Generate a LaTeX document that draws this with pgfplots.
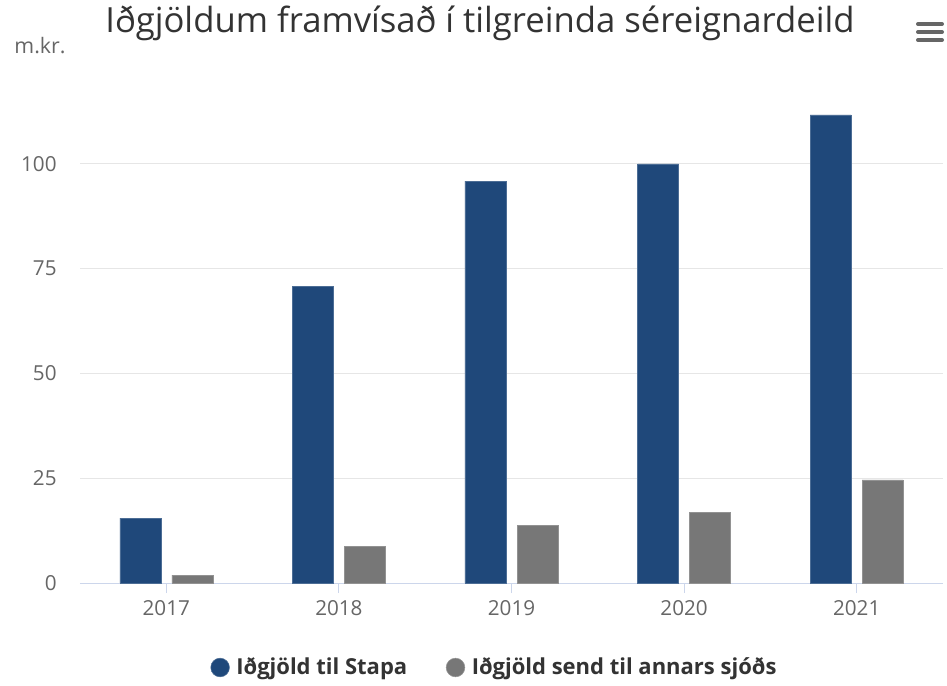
\documentclass[border=0pt]{standalone}
\usepackage{pgfplots}
\pgfplotsset{compat=1.18}
\usepackage{fontspec}
\setmainfont{Open Sans}
\definecolor{stapa}{RGB}{31,72,122}
\definecolor{annar}{RGB}{119,119,119}
\definecolor{gridc}{RGB}{230,230,230}
\definecolor{axisc}{RGB}{204,214,235}
\definecolor{tickc}{RGB}{102,102,102}
\definecolor{titlec}{RGB}{51,51,51}
\begin{document}
\begin{tikzpicture}
\begin{axis}[
  at={(0pt,0pt)}, anchor=south west,
  scale only axis, width=647.25pt, height=377.25pt,
  ybar=8.25pt, bar width=30.75pt,
  xmin=-0.5, xmax=4.5, ymin=0, ymax=120,
  xtick={0,1,2,3,4}, xticklabels={2017,2018,2019,2020,2021},
  ytick={0,25,50,75,100},
  ymajorgrids, grid style={gridc, line width=0.75pt},
  axis x line*=bottom, axis y line*=left,
  y axis line style={draw=none},
  x axis line style={axisc, line width=0.75pt, -},
  xtick style={axisc, line width=0.75pt},
  xtick align=outside, major tick length=7.5pt,
  ytick style={draw=none},
  tick label style={font=\fontsize{15.5}{18}\selectfont, text=tickc},
  /pgf/number format/assume math mode=true,
  xticklabel style={yshift=-2pt},
  yticklabel style={xshift=-14pt},
  legend style={at={(0.483,-0.168)}, anchor=center, draw=none,
    legend columns=2, font=\bfseries\fontsize{16.5}{19}\selectfont, text=titlec,
    /tikz/every even column/.append style={column sep=24pt}},
  legend image code/.code={\fill[#1] (0.05cm,0cm) circle (7pt);},
  legend cell align=left,
  legend style={nodes={inner xsep=5pt}},
]
\addplot[fill=stapa, draw=stapa!80!white] coordinates {
  (0,15.5) (1,70.8) (2,95.9) (3,100.0) (4,111.7)
};
\addplot[fill=annar, draw=annar!80!white] coordinates {
  (0,1.9) (1,8.8) (2,13.8) (3,16.9) (4,24.6)
};
\legend{Iðgjöld til Stapa, Iðgjöld send til annars sjóðs}
\end{axis}
\node[text=titlec, font=\fontsize{26}{30}\selectfont] at (300pt,420pt) {Iðgjöldum framvísað í tilgreinda séreignardeild};
\node[text=tickc, font=\fontsize{16}{18}\selectfont] at (-30pt,403pt) {m.kr.};
\foreach \yy in {419.25,413.25,407.25}
  \draw[tickc, line width=3pt, line cap=round] (628.5pt,\yy pt) -- (646.5pt,\yy pt);
\path (-60pt,-77.25pt) rectangle (650.25pt,437.25pt);
\end{tikzpicture}
\end{document}
